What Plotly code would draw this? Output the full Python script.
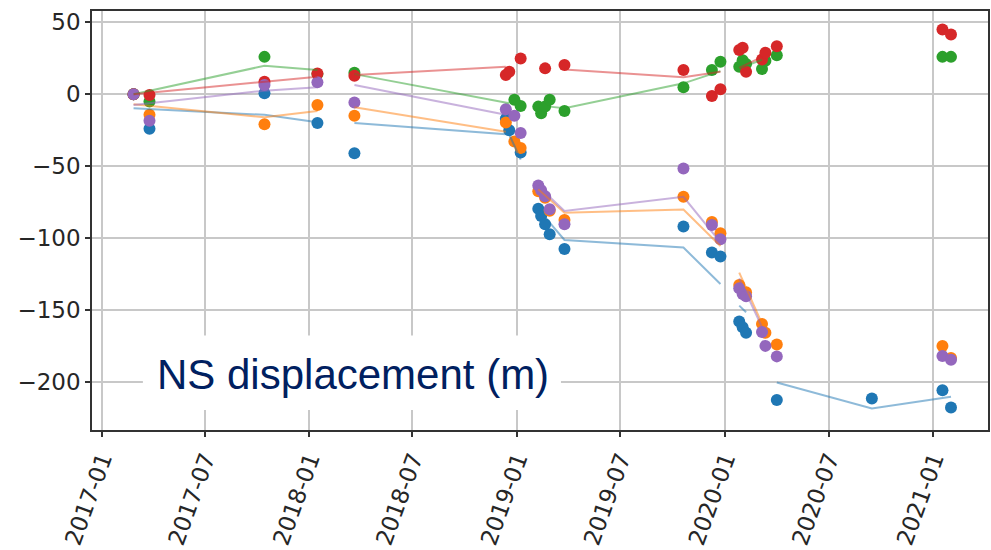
import plotly.graph_objects as go

# ---- data ----
dates = ["2017-02-26", "2017-03-26", "2017-10-14", "2018-01-15", "2018-03-21",
         "2018-12-12", "2018-12-18", "2018-12-27", "2019-01-07",
         "2019-02-07", "2019-02-12", "2019-02-19", "2019-02-27", "2019-03-25",
         "2019-10-20", "2019-12-09", "2019-12-24",
         "2020-01-26", "2020-02-01", "2020-02-07", "2020-03-06", "2020-03-12", "2020-04-01",
         "2020-09-15", "2021-01-17", "2021-02-01"]

blue_pts = [0, -24, 0.7, -20, -41,
            -17, -25, None, -40.5,
            -79.6, -84.7, -90.4, -97.4, -107.7,
            -92, -110, -112.8,
            -158, -162, -165.9, None, None, -212.7,
            -211.6, -205.8, -217.8]
orange_pts = [0, -14.3, -20.8, -7.4, -15,
              -19.6, None, -32.8, -37.4,
              -67.4, None, -72, -81, -87.5,
              -71.3, -88.8, -96.7,
              -132.7, None, -137.7, -159.7, -165.9, -174,
              None, -175.1, -183.5]
green_pts = [0, -5, 26, 14, 15,
             None, None, -3.9, -8.1,
             -8.6, -13.2, -8.6, -3.9, -11.6,
             4.8, 16.8, 22.6,
             19.1, 23.7, 21, 17.5, 23.3, 27.2,
             None, 26, 26]
red_pts = [0, -0.5, 8.7, 14.5, 12.9,
           13.4, 15.6, None, 24.9,
           None, None, 18, None, 20.3,
           16.8, -1.2, 3.5,
           30.7, 32.3, 15.6, 24.2, 28.8, 33.4,
           None, 45, 41.5]
purple_pts = [0, -18.5, 6.4, 8.3, -5.8,
              -10.4, None, -15, -27,
              -63.5, -66.7, -70.9, -80, -90.4,
              -51.7, -91, -100.8,
              -135, -138.9, -140.5, -165.4, -175, -182.3,
              None, -182, -184.6]

# fitted model lines (None = gap between segments)
blue_line_x = ["2017-02-26", "2017-10-14", "2018-01-15", None,
               "2018-03-21", "2018-12-18", "2019-01-07", None,
               "2019-02-07", "2019-03-25", "2019-10-20", "2019-12-24", None,
               "2020-01-26", "2020-02-07", None,
               "2020-04-01", "2020-09-15", "2021-02-01"]
blue_line_y = [-9.7, -14.3, -19.4, None,
               -20, -28, -45.5, None,
               -80, -101.3, -106.6, -132, None,
               -147, -151.6, None,
               -200.5, -218.5, -210.4]
orange_line_x = ["2017-02-26", "2017-10-14", "2018-01-15", None,
                 "2018-03-21", "2018-12-12", None,
                 "2019-02-07", "2019-03-25", "2019-10-20", "2019-12-24", None,
                 "2020-01-26", "2020-03-06"]
orange_line_y = [-7, -16, -11.6, None,
                 -9, -26, None,
                 -66, -82.4, -80.1, -105.5, None,
                 -124, -159.6]
green_line_x = ["2017-02-26", "2017-10-14", "2018-01-15", None,
                "2018-03-21", "2018-12-18", None,
                "2019-02-27", "2019-03-25", "2019-10-20", "2019-12-24", None,
                "2020-01-26", "2020-03-06"]
green_line_y = [0, 19.8, 16.8, None,
                14, -6.2, None,
                -8.6, -9.7, 7.6, 16.1, None,
                18, 24]
red_line_x = ["2017-02-26", "2017-10-14", "2018-01-15", None,
              "2018-03-21", "2018-12-12", None,
              "2019-03-25", "2019-10-20", "2019-12-24", None,
              "2020-01-26", "2020-03-06"]
red_line_y = [0, 8.7, 12.2, None,
              13.4, 19.1, None,
              17.3, 11.8, 15.6, None,
              18.4, 26]
purple_line_x = ["2017-02-26", "2017-10-14", "2018-01-15", None,
                 "2018-03-21", "2018-12-12", None,
                 "2019-02-07", "2019-03-25", "2019-10-20", "2019-12-24", None,
                 "2020-01-26", "2020-03-06"]
purple_line_y = [-7.5, 2.5, 4.8, None,
                 6.4, -14.3, None,
                 -64, -81.2, -71.3, -103, None,
                 -128, -162]

x_tick_vals = ["2017-01-01", "2017-07-01", "2018-01-01", "2018-07-01", "2019-01-01",
               "2019-07-01", "2020-01-01", "2020-07-01", "2021-01-01"]
x_tick_text = ["2017-01", "2017-07", "2018-01", "2018-07", "2019-01",
               "2019-07", "2020-01", "2020-07", "2021-01"]
y_tick_vals = [50, 0, -50, -100, -150, -200]
y_tick_text = ["50", "0", "\u221250", "\u2212100", "\u2212150", "\u2212200"]

title_text = "NS displacement (m)"

# ---- figure ----
colors = {"blue": "#1f77b4", "orange": "#ff7f0e", "green": "#2ca02c",
          "red": "#d62728", "purple": "#9467bd"}
series = [
    ("blue", blue_pts, blue_line_x, blue_line_y),
    ("orange", orange_pts, orange_line_x, orange_line_y),
    ("green", green_pts, green_line_x, green_line_y),
    ("red", red_pts, red_line_x, red_line_y),
    ("purple", purple_pts, purple_line_x, purple_line_y),
]

fig = go.Figure()
for name, pts, lx, ly in series:
    fig.add_trace(go.Scatter(x=dates, y=pts, mode="markers",
                             marker=dict(color=colors[name], size=12, line=dict(width=0)),
                             showlegend=False, cliponaxis=True))
for name, pts, lx, ly in series:
    fig.add_trace(go.Scatter(x=lx, y=ly, mode="lines",
                             line=dict(color=colors[name], width=2),
                             opacity=0.5, showlegend=False, connectgaps=False))

fig.add_shape(type="rect", xref="paper", yref="paper",
              x0=0.0568, x1=0.5234, y0=0.0475, y1=0.2257,
              fillcolor="white", line=dict(width=0), layer="above")
fig.add_annotation(text=title_text, xref="paper", yref="paper",
                   x=0.2912, y=0.133, xanchor="center", yanchor="middle",
                   showarrow=False,
                   font=dict(family="Liberation Sans, Arial", size=42, color="#002060"))

axis_common = dict(showline=True, linecolor="#333333", linewidth=1.5, mirror=True,
                   showgrid=True, gridcolor="#c8c8c8", gridwidth=1.5,
                   ticks="outside", ticklen=5, tickwidth=1.5, tickcolor="#333333",
                   zeroline=False,
                   tickfont=dict(family="DejaVu Sans", size=23, color="#262626"))

fig.update_layout(
    width=991, height=550,
    margin=dict(l=92, r=1, t=11, b=118),
    paper_bgcolor="white", plot_bgcolor="white",
    xaxis=dict(type="date", range=["2016-12-15", "2021-04-07"],
               tickmode="array", tickvals=x_tick_vals, ticktext=x_tick_text,
               tickangle=-70, **axis_common),
    yaxis=dict(range=[-233.5, 57.9], tickmode="array",
               tickvals=y_tick_vals, ticktext=y_tick_text, **axis_common),
)

fig.write_html("out.html")
